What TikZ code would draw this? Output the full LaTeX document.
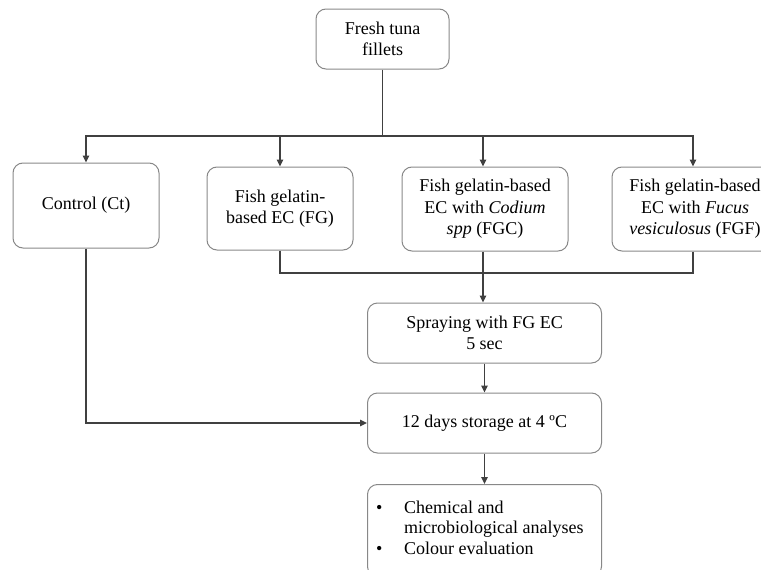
\documentclass[tikz,border=0pt]{standalone}
\usepackage{fontspec}
\setmainfont{Liberation Serif}
\usetikzlibrary{arrows.meta}
\definecolor{boxgray}{HTML}{888888}
\definecolor{linkgray}{HTML}{404040}
\begin{document}
\begin{tikzpicture}[x=1pt,y=-1pt,
  box/.style={draw=boxgray, line width=1pt, rounded corners=10pt, align=center,
    font=\fontsize{18}{21.5}\selectfont, inner sep=0pt},
  link/.style={draw=linkgray, line width=1.5pt},
  arr/.style={link, -{Triangle[length=7pt,width=6.5pt]}}]
\useasboundingbox (0,0) rectangle (761,570);
\clip (0,0) rectangle (761,570);

% process boxes
\node[box, minimum width=133pt, minimum height=60pt] (fresh) at (382.5,39) {Fresh tuna\\fillets};
\node[box, minimum width=146pt, minimum height=85pt] (ctrl) at (86,205.5) {Control (Ct)};
\node[box, minimum width=146pt, minimum height=83pt] (fg) at (280,208.5) {Fish gelatin-\\based EC (FG)};
\node[box, minimum width=166pt, minimum height=84pt] (fgc) at (485,209) {Fish gelatin-based\\EC with \textit{Codium}\\\textit{spp} (FGC)};
\node[box, minimum width=166pt, minimum height=84pt] (fgf) at (695,209) {Fish gelatin-based\\EC with \textit{Fucus}\\\textit{vesiculosus} (FGF)};
\node[box, minimum width=234pt, minimum height=60pt] (spray) at (484.5,333) {Spraying with FG EC\\5 sec};
\node[box, minimum width=234pt, minimum height=60pt] (store) at (484.5,423) {12 days storage at 4 ºC};
\node[box, minimum width=234pt, minimum height=92pt, anchor=north] (final) at (484.5,484) {};
\node[anchor=north west, align=left, inner sep=0pt, font=\fontsize{18}{20.5}\selectfont] (list) at (376,500.5)
  {\makebox[28pt][l]{\textbullet}Chemical and\\
   \hspace*{28pt}microbiological analyses\\
   \makebox[28pt][l]{\textbullet}Colour evaluation};

% distribution to the treatments
\coordinate (split) at (382.5,136);
\draw[link] (fresh.south) -- (split);
\draw[arr] (split) -| (ctrl.north);
\draw[arr] (split) -| (fg.north);
\draw[arr] (split) -| ([xshift=-2pt]fgc.north);
\draw[arr] (split) -| ([xshift=-2pt]fgf.north);

% coated treatments merge into spraying
\coordinate (merge) at (483,273);
\draw[link] (fg.south) |- (merge);
\draw[link] ([xshift=-2pt]fgf.south) |- (merge);
\draw[link] ([xshift=-2pt]fgc.south) -- (merge);
\draw[arr] (merge) -- (spray.north -| merge);

% storage and analyses
\draw[arr] (ctrl.south) |- (store.west);
\draw[arr] (spray.south) -- (store.north);
\draw[arr] (store.south) -- (final.north);
\end{tikzpicture}
\end{document}
